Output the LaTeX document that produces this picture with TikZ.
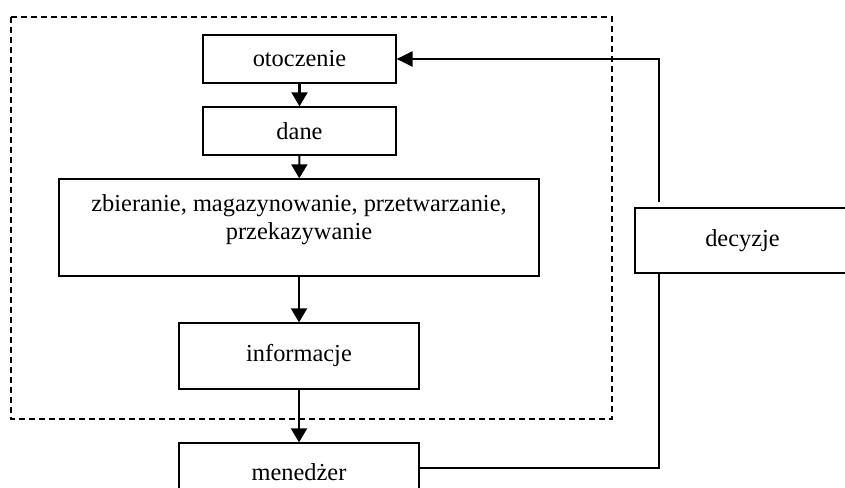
\documentclass[tikz,border=0pt]{standalone}
\usepackage{fontspec}
\setmainfont{Liberation Serif}
\usetikzlibrary{arrows.meta}
\newlength{\pxu}
\setlength{\pxu}{0.75pt}
\begin{document}
\begin{tikzpicture}[x=0.75pt,y=-0.75pt,
  box/.style={draw,line width=1pt,inner sep=0pt,align=center,
    font=\fontsize{18.3}{21}\selectfont},
  arr/.style={line width=1.6pt,-{Triangle[length=10.5pt,width=12pt]}},
  fb/.style={line width=1.1pt}]
  \useasboundingbox (0,0) rectangle (845,488);
  \clip (0,0) rectangle (845,488);
  % system frame
  \draw[line width=1pt,dash pattern=on 4.5pt off 3pt] (11,17) rectangle (612,419);
  \node[box,minimum width=193*\pxu,minimum height=48*\pxu] (oto) at (299.5,59) {otoczenie};
  \node[box,minimum width=193*\pxu,minimum height=48*\pxu] (dane) at (299.5,131) {dane};
  \node[box,minimum width=480*\pxu,minimum height=97*\pxu] (proc) at (299,227.5)
    {\parbox[c][97\pxu][t]{470\pxu}{\centering\vspace{16\pxu}zbieranie, magazynowanie, przetwarzanie,\\ przekazywanie}};
  \node[box,minimum width=240*\pxu,minimum height=66*\pxu] (info) at (299,356) {informacje};
  \node[box,minimum width=240*\pxu,minimum height=58*\pxu] (men) at (299,472) {menedżer};
  \node[box,minimum width=215*\pxu,minimum height=65*\pxu] (dec) at (742.5,240.5) {decyzje};
  \draw[arr] (oto) -- (dane);
  \draw[arr] (dane) -- (proc);
  \draw[arr] (proc) -- (info);
  \draw[arr] (info) -- (men);
  % feedback loop
  \coordinate (c1) at (659,468);
  \coordinate (c2) at (659,59);
  \draw[fb] (men.east |- c1) -- (c1) -- (c1 |- dec.south);
  \draw[fb,-{Triangle[length=12pt,width=11.5pt]},shorten <=3.75pt] (c2 |- dec.north) -- (c2) -- (oto.east);
\end{tikzpicture}
\end{document}
